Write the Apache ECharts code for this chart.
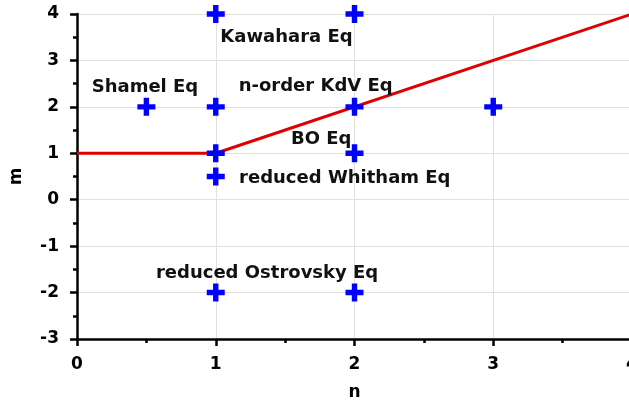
<!DOCTYPE html>
<html>
<head>
<meta charset="utf-8">
<script src="https://cdn.jsdelivr.net/npm/echarts@6/dist/echarts.min.js"></script>
<style>
  html, body { margin: 0; padding: 0; background: #fff; }
  #chart { width: 629px; height: 403px; }
</style>
</head>
<body>
<div id="chart"></div>
<script>
// equations placed on the (n, m) plane
const eqPoints = [[1, 4], [2, 4], [0.5, 2], [1, 2], [2, 2], [3, 2], [1, 1], [2, 1], [1, 0.5], [1, -2], [2, -2]];
// red boundary line
const boundary = [[0, 1], [1, 1], [4, 4]];
// annotation labels
const noteNames = ['Kawahara Eq', 'Shamel Eq', 'n-order KdV Eq', 'BO Eq', 'reduced Whitham Eq', 'reduced Ostrovsky Eq'];
const noteX = [1.51, 0.49, 1.72, 1.76, 1.93, 1.37];
const noteY = [3.5, 2.41, 2.45, 1.29, 0.47, -1.58];

const font = 'DejaVu Sans';
const plus = 'path://M3.5,0h3v3.5h3.5v3h-3.5v3.5h-3v-3.5h-3.5v-3h3.5z';

const axisCommon = {
  type: 'value',
  interval: 1,
  axisLine: { show: true, onZero: false, lineStyle: { color: '#000', width: 2.5 } },
  axisTick: { show: true, length: 7, lineStyle: { color: '#000', width: 2.5 } },
  minorTick: { show: true, splitNumber: 2, length: 4, lineStyle: { color: '#000', width: 2.5 } },
  splitLine: { show: true, lineStyle: { color: '#e0e0e0', width: 1 } },
  axisLabel: { color: '#000', fontFamily: font, fontWeight: 'bold', fontSize: 17 },
  nameLocation: 'middle',
  nameTextStyle: { color: '#000', fontFamily: font, fontWeight: 'bold', fontSize: 17 },
};

const chart = echarts.init(document.getElementById('chart'));
chart.setOption({
  animation: false,
  grid: { left: 77, top: 14, width: 555, height: 325, outerBoundsMode: 'none', containLabel: false },
  xAxis: {
    ...axisCommon,
    min: 0,
    max: 4,
    name: 'n',
    nameGap: 45,
    axisLabel: { ...axisCommon.axisLabel, margin: 17 },
  },
  yAxis: {
    ...axisCommon,
    min: -3,
    max: 4,
    name: 'm',
    nameGap: 52,
    axisLabel: { ...axisCommon.axisLabel, margin: 18 },
  },
  series: [
    {
      type: 'line',
      data: boundary,
      symbol: 'none',
      lineStyle: { color: '#e00000', width: 3 },
      z: 2,
    },
    {
      type: 'scatter',
      data: eqPoints,
      symbol: plus,
      symbolSize: 18,
      itemStyle: { color: '#0000ff', opacity: 1 },
      z: 3,
    },
    {
      type: 'scatter',
      data: noteNames.map((n, i) => ({ name: n, value: [noteX[i], noteY[i]] })),
      symbolSize: 0,
      itemStyle: { opacity: 1 },
      label: {
        show: true,
        position: 'inside',
        formatter: '{b}',
        color: '#111',
        fontFamily: font,
        fontWeight: 'bold',
        fontSize: 18,
      },
      z: 4,
    },
  ],
});
</script>
</body>
</html>
